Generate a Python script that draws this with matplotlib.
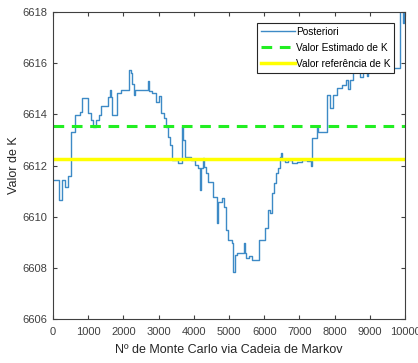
import numpy as np
import matplotlib
matplotlib.use('Agg')
import matplotlib.pyplot as plt

plt.rcParams['font.family'] = ['Liberation Sans', 'DejaVu Sans']

# cadeia
iteracao = [0, 170, 256, 341, 426, 511, 625, 767, 824, 994, 1080, 1136, 1222, 1307, 1364,
            1563, 1619, 1648, 1676, 1818, 1932, 2159, 2216, 2244, 2287, 2315, 2699, 2727,
            2813, 2926, 3011, 3068, 3154, 3210, 3267, 3324, 3381, 3551, 3651, 3679, 3750,
            3921, 4034, 4119, 4162, 4190, 4247, 4290, 4347, 4404, 4546, 4645, 4668, 4696,
            4787, 4858, 4915, 4958, 5071, 5114, 5156, 5213, 5426, 5455, 5475, 5569, 5640,
            5852, 6023, 6108, 6165, 6208, 6279, 6336, 6378, 6449, 6478, 6506, 6591, 6676,
            6776, 6918, 7060, 7202, 7316, 7344, 7486, 7537, 7793, 7870, 7963, 8060, 8202,
            8324, 8381, 8438, 8515, 8628, 8722, 8807, 8921, 8949, 9233, 9460, 9858, 9943,
            9972, 10000]
posteriori = [6611.45, 6610.65, 6611.45, 6611.17, 6611.6, 6613.32, 6613.97, 6614.1, 6614.65,
              6614.05, 6613.78, 6613.52, 6613.78, 6613.97, 6614.33, 6614.69, 6614.95, 6614.69,
              6613.97, 6614.82, 6614.97, 6615.73, 6615.6, 6615.2, 6614.75, 6614.95, 6615.32,
              6614.9, 6614.85, 6614.49, 6614.72, 6614.04, 6613.84, 6613.52, 6613.13, 6612.8,
              6612.21, 6612.08, 6613.5, 6613.0, 6612.34, 6612.21, 6612.02, 6611.89, 6611.04,
              6611.9, 6612.28, 6611.95, 6611.69, 6611.37, 6610.78, 6610.52, 6609.74, 6610.58,
              6610.72, 6610.39, 6609.48, 6609.09, 6608.96, 6607.85, 6608.5, 6608.57, 6608.96,
              6608.57, 6608.37, 6608.45, 6608.31, 6609.09, 6609.54, 6610.26, 6610.14, 6610.91,
              6611.3, 6611.69, 6611.89, 6612.34, 6612.47, 6612.2, 6612.15, 6612.21, 6612.11,
              6612.15, 6612.21, 6612.17, 6612.0, 6613.06, 6613.52, 6613.32, 6614.75, 6614.24,
              6614.75, 6615.02, 6615.15, 6615.34, 6615.0, 6615.34, 6615.67, 6615.8, 6615.47,
              6615.7, 6615.5, 6615.75, 6615.7, 6615.8, 6618.2, 6617.56, 6618.2, 6618.2]

k_estimado = 6613.56
k_referencia = 6612.24

fig = plt.figure(figsize=(4.18, 3.63), dpi=100)
ax = fig.add_axes([0.127, 0.121, 0.842, 0.846])

ax.plot(iteracao, posteriori, drawstyle='steps-post', color='#3d8ac6', lw=1.0, label='Posteriori')
ax.axhline(k_estimado, color='#22ee22', lw=2.2, ls=(0, (3.5, 2.5)), label='Valor Estimado de K')
ax.axhline(k_referencia, color='#ffff00', lw=2.5, label='Valor referência de K')

ax.set_xlim(0, 10000)
ax.set_ylim(6606, 6618)
ax.set_xticks(np.arange(0, 10001, 1000))
ax.set_yticks(np.arange(6606, 6619, 2))
ax.tick_params(direction='in', length=3, labelsize=8, colors='#404040', top=True, right=True,
               labeltop=False, labelright=False)
ax.tick_params(axis='x', pad=6)
ax.tick_params(axis='y', pad=4)
for s in ax.spines.values():
    s.set_color('#404040')
    s.set_linewidth(0.8)

ax.set_xlabel('Nº de Monte Carlo via Cadeia de Markov', fontsize=9, color='#262626', labelpad=5)
ax.set_ylabel('Valor de K', fontsize=9, color='#262626', labelpad=2)

leg = ax.legend(loc='upper right', bbox_to_anchor=(0.97, 0.965), fontsize=7.3, frameon=True,
                fancybox=False, edgecolor='#262626', framealpha=1, handlelength=3.3,
                handletextpad=0.1, borderpad=0.4, labelspacing=0.6, borderaxespad=0)
leg.get_frame().set_linewidth(0.8)

fig.savefig('out.png', dpi=100)
